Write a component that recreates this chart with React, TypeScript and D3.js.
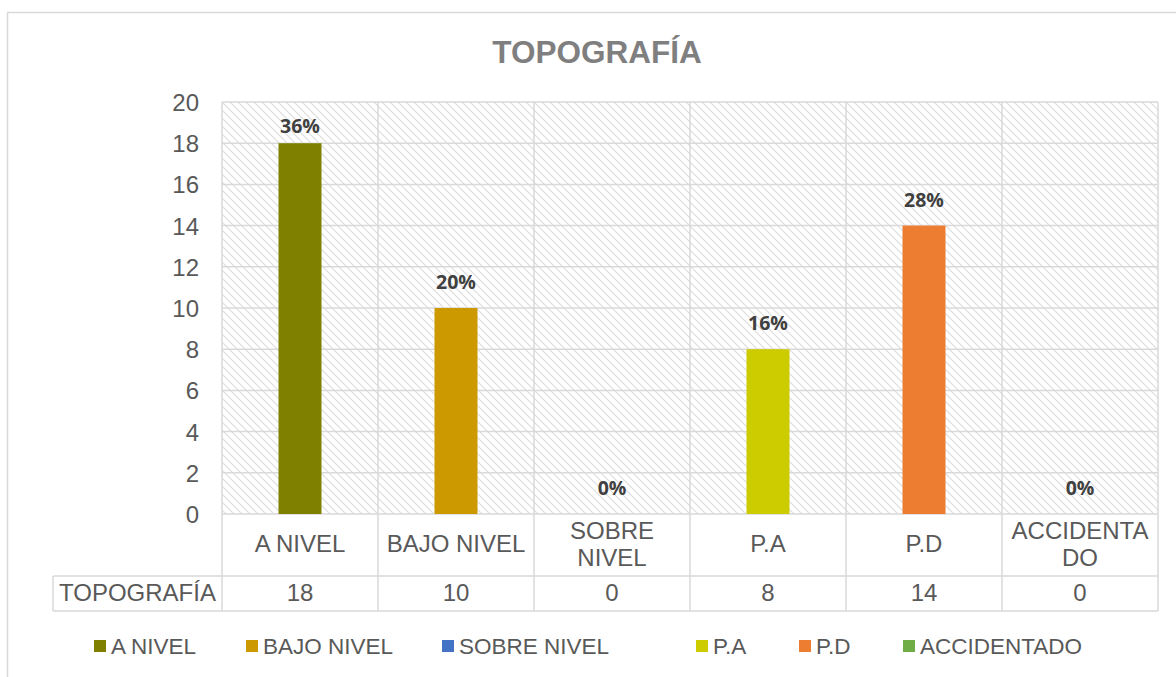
import React from 'react';
import * as d3 from 'd3';

const title = 'TOPOGRAFÍA';
const categories = ['A NIVEL', 'BAJO NIVEL', 'SOBRE NIVEL', 'P.A', 'P.D', 'ACCIDENTADO'];
const axisLabels = [['A NIVEL'], ['BAJO NIVEL'], ['SOBRE', 'NIVEL'], ['P.A'], ['P.D'], ['ACCIDENTA', 'DO']];
const values = [18, 10, 0, 8, 14, 0];
const percents = ['36%', '20%', '0%', '16%', '28%', '0%'];
const colors = ['#808000', '#CC9900', '#4472C4', '#CCCC00', '#ED7D31', '#70AD47'];
const yTicks = [0, 2, 4, 6, 8, 10, 12, 14, 16, 18, 20];
const legendX = [94, 246, 442, 696, 799, 903];

const W = 1176;
const H = 677;
const plot = { left: 222, right: 1158, top: 102, bottom: 514 };
const rowLabelBottom = 576;
const tableBottom = 611;
const tableLeft = 53;
const grid = '#d9d9d9';
const textColor = '#595959';
const font = '"Liberation Sans", Arial, sans-serif';

const App = () => {
  const x = d3.scaleBand<string>().domain(categories).range([plot.left, plot.right]);
  const y = d3.scaleLinear().domain([0, 20]).range([plot.bottom, plot.top]);
  const barW = 43;

  return (
    <svg width={W} height={H} style={{ position: 'absolute', left: 0, top: 0, fontFamily: font }}>
      <defs>
        <pattern id="hatch" patternUnits="userSpaceOnUse" width="8" height="8">
          <rect width="8" height="8" fill="#fff" />
          <path d="M-2,-2 L10,10 M-2,6 L2,10 M6,-2 L10,2" stroke="#dcdcdc" strokeWidth="1.1" />
        </pattern>
      </defs>
      <rect x={0} y={0} width={W} height={H} fill="#fff" />
      {/* chart frame */}
      <path d={`M7.5,${H} V12.5 H${W}`} fill="none" stroke={grid} strokeWidth={1.5} />

      <text x={597} y={63} textAnchor="middle" fontSize={31.5} fontWeight="bold" fill="#7f7f7f">{title}</text>

      {/* plot area */}
      <rect x={plot.left} y={plot.top} width={plot.right - plot.left} height={plot.bottom - plot.top} fill="url(#hatch)" />
      {yTicks.map(t => (
        <g key={t}>
          <line x1={plot.left} x2={plot.right} y1={y(t)} y2={y(t)} stroke={grid} strokeWidth={1.5} />
          <text x={199} y={y(t) + 9} textAnchor="end" fontSize={24} fill={textColor}>{t}</text>
        </g>
      ))}

      {/* vertical grid / table lines */}
      {categories.map(c => (
        <line key={c} x1={x(c)} x2={x(c)} y1={plot.top} y2={tableBottom} stroke={grid} strokeWidth={1.5} />
      ))}
      <line x1={plot.right} x2={plot.right} y1={plot.top} y2={tableBottom} stroke={grid} strokeWidth={1.5} />
      <line x1={tableLeft} x2={tableLeft} y1={rowLabelBottom} y2={tableBottom} stroke={grid} strokeWidth={1.5} />
      <line x1={tableLeft} x2={plot.right} y1={rowLabelBottom} y2={rowLabelBottom} stroke={grid} strokeWidth={1.5} />
      <line x1={tableLeft} x2={plot.right} y1={tableBottom} y2={tableBottom} stroke={grid} strokeWidth={1.5} />

      {/* bars */}
      {categories.map((c, i) => {
        const cx = (x(c) as number) + x.bandwidth() / 2;
        const top = y(values[i]);
        const labelY = Math.max(top - 19, plot.top + 31);
        return (
          <g key={c}>
            {values[i] > 0 && (
              <rect x={cx - barW / 2} y={top} width={barW} height={plot.bottom - top} fill={colors[i]} />
            )}
            <text x={cx} y={labelY} textAnchor="middle" fontSize={19.5} fontWeight="bold"
              fill="#404040" fontFamily='"Open Sans", sans-serif'>{percents[i]}</text>
            {axisLabels[i].length === 1 ? (
              <text x={cx} y={552} textAnchor="middle" fontSize={24} fill={textColor}>{axisLabels[i][0]}</text>
            ) : (
              axisLabels[i].map((l, j) => (
                <text key={l} x={cx} y={539 + j * 27} textAnchor="middle" fontSize={24} fill={textColor}>{l}</text>
              ))
            )}
            <text x={cx} y={601} textAnchor="middle" fontSize={24} fill={textColor}>{values[i]}</text>
          </g>
        );
      })}
      <text x={(tableLeft + plot.left) / 2} y={601} textAnchor="middle" fontSize={24} fill={textColor}>{title}</text>

      {/* legend */}
      {categories.map((c, i) => (
        <g key={c}>
          <rect x={legendX[i]} y={640} width={12} height={12} fill={colors[i]} />
          <text x={legendX[i] + 17} y={654} fontSize={22.5} fill={textColor}>{c}</text>
        </g>
      ))}
    </svg>
  );
};

export default App;
